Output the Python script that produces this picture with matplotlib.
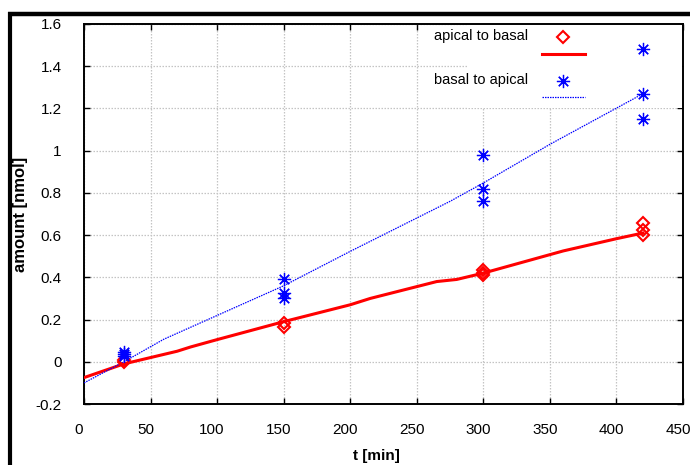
import matplotlib
matplotlib.use("Agg")
import matplotlib.pyplot as plt
from matplotlib.lines import Line2D
from matplotlib.patches import Rectangle
from matplotlib.ticker import FuncFormatter
from matplotlib.transforms import ScaledTranslation

# measured transport amounts
t_a2b = [30, 30, 150, 150, 300, 300, 300, 420, 420, 420]
amt_a2b = [0.01, 0.0, 0.185, 0.165, 0.435, 0.42, 0.41, 0.655, 0.625, 0.60]

t_b2a = [30, 30, 30, 150, 150, 150, 300, 300, 300, 420, 420, 420]
amt_b2a = [0.045, 0.035, 0.025, 0.39, 0.325, 0.30, 0.98, 0.82, 0.76, 1.48, 1.27, 1.15]

# fitted curves
fit_t_a2b = [0, 30, 70, 80, 100, 150, 200, 215, 265, 280, 300, 360, 400, 420]
fit_a2b = [-0.075, -0.01, 0.05, 0.07, 0.105, 0.19, 0.27, 0.30, 0.38, 0.39, 0.42, 0.525, 0.583, 0.61]

fit_t_b2a = [0, 30, 60, 150, 200, 275, 300, 350, 420]
fit_b2a = [-0.1, 0.0, 0.107, 0.36, 0.523, 0.76, 0.847, 1.03, 1.27]

x_ticks = list(range(0, 451, 50))
y_ticks = [-0.2, 0, 0.2, 0.4, 0.6, 0.8, 1, 1.2, 1.4, 1.6]

FONT = ["Liberation Sans Narrow", "Liberation Sans", "DejaVu Sans"]

fig = plt.figure(figsize=(6.9, 4.65), dpi=100)
ax = fig.add_axes([84 / 690, 1 - 404 / 465, 599 / 690, 380 / 465])

ax.set_xlim(0, 450)
ax.set_ylim(-0.2, 1.6)
ax.set_xticks(x_ticks)
ax.set_yticks(y_ticks)
ax.yaxis.set_major_formatter(FuncFormatter(lambda v, p: f"{v:g}"))
ax.set_axisbelow(True)
ax.grid(True, color="#c4c4c4", linestyle=(0, (1.2, 1.2)), linewidth=0.9)

for s in ax.spines.values():
    s.set_linewidth(1.4)
ax.tick_params(direction="in", length=4, width=1.0, top=True, right=True)
ax.tick_params(axis="x", pad=13.5)
ax.tick_params(axis="y", pad=16)
shift_left = ScaledTranslation(-5 / 100, 0, fig.dpi_scale_trans)
for lbl in ax.get_xticklabels():
    lbl.set_transform(lbl.get_transform() + shift_left)
for lbl in ax.get_xticklabels() + ax.get_yticklabels():
    lbl.set_family(FONT)
    lbl.set_fontsize(11)

# fitted lines
ax.plot(fit_t_a2b, fit_a2b, color="#ff0000", linewidth=2.2, zorder=3)
ax.plot(fit_t_b2a, fit_b2a, color="#0000ff", linewidth=0.9,
        linestyle=(0, (1.2, 0.8)), zorder=3)

# data points
star = (8, 2, 0)
ax.plot(t_a2b, amt_a2b, linestyle="none", marker="D", markersize=6.5,
        markerfacecolor="none", markeredgecolor="#ff0000", markeredgewidth=1.5,
        zorder=4)
ax.plot(t_b2a, amt_b2a, linestyle="none", marker=star, markersize=9.5,
        markeredgecolor="#0000ff", markeredgewidth=0.9, zorder=4)

# key area
ax.add_patch(Rectangle((0.641, 0.779), 0.357, 0.221, transform=ax.transAxes,
                       facecolor="white", edgecolor="none", zorder=1))
ax.text(0.741, 0.968, "apical to basal", transform=ax.transAxes, ha="right",
        va="center", fontsize=10.5, family=FONT, zorder=5)
ax.plot([0.800], [0.9666], transform=ax.transAxes, linestyle="none", marker="D",
        markersize=6.5, markerfacecolor="none", markeredgecolor="#ff0000",
        markeredgewidth=1.5, zorder=5, clip_on=False)
ax.plot([0.764, 0.836], [0.921, 0.921], transform=ax.transAxes,
        color="#ff0000", linewidth=2.2, zorder=5)
ax.text(0.741, 0.8526, "basal to apical", transform=ax.transAxes, ha="right",
        va="center", fontsize=10.5, family=FONT, zorder=5)
ax.plot([0.800], [0.851], transform=ax.transAxes, linestyle="none", marker=star,
        markersize=9.5, markeredgecolor="#0000ff", markeredgewidth=0.9, zorder=5)
ax.plot([0.764, 0.836], [0.809, 0.809], transform=ax.transAxes,
        color="#0000ff", linewidth=0.9, linestyle=(0, (1.2, 0.8)), zorder=5)

ax.set_xlabel("t [min]", fontsize=11, fontweight="bold", family=FONT)
ax.set_ylabel("amount [nmol]", fontsize=12, fontweight="bold", family=FONT)
ax.xaxis.set_label_coords(0.4875, -0.118)
ax.yaxis.set_label_coords(-0.0935, 0.5)

# heavy frame on the top and left edges of the figure
fig.add_artist(Line2D([8 / 690, 1.0], [1 - 14.5 / 465, 1 - 14.5 / 465],
                      transform=fig.transFigure, color="black", linewidth=3.2,
                      solid_capstyle="butt"))
fig.add_artist(Line2D([10.3 / 690, 10.3 / 690], [0.0, 1 - 12.3 / 465],
                      transform=fig.transFigure, color="black", linewidth=3.0,
                      solid_capstyle="butt"))

fig.savefig("out.png", dpi=100)
